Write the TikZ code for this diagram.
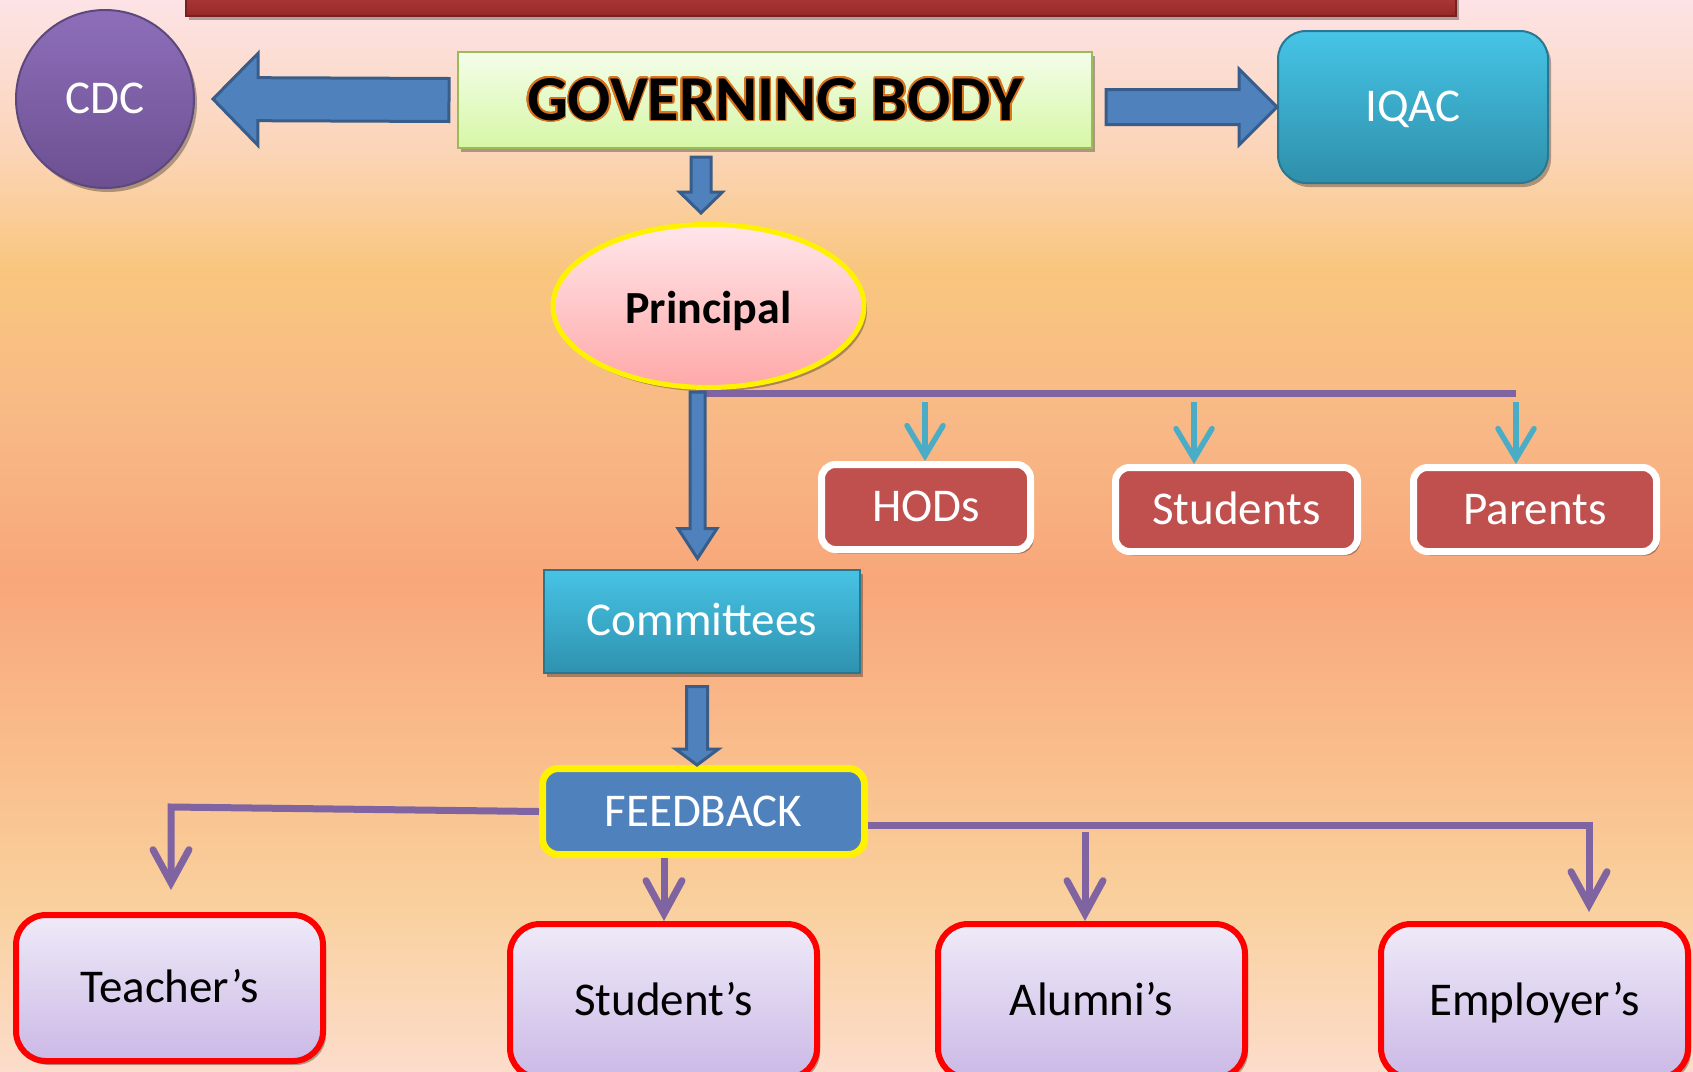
\documentclass[tikz,border=0pt]{standalone}
\usepackage{fontspec}
\setmainfont{Carlito}
\usepackage[copies]{contour}
\contourlength{1.5pt}
\contournumber{20}
\usetikzlibrary{calc,shadows,shapes.geometric,arrows.meta}

\definecolor{bgA}{HTML}{FDE3E6}
\definecolor{bgB}{HTML}{FBD5B8}
\definecolor{bgC}{HTML}{F9C67E}
\definecolor{bgD}{HTML}{F8B986}
\definecolor{bgE}{HTML}{F8A77B}
\definecolor{bgF}{HTML}{F9BE8C}
\definecolor{bgG}{HTML}{F9D09C}
\definecolor{bgH}{HTML}{FCDCCB}
\definecolor{barfill}{HTML}{4F81BD}
\definecolor{barline}{HTML}{385D8A}
\definecolor{purpleC}{HTML}{8064A2}
\definecolor{cyanC}{HTML}{4BACC6}
\definecolor{redfill}{HTML}{C0504D}
\definecolor{glowC}{HTML}{D9731E}
\definecolor{lavtop}{HTML}{EFEAF8}
\definecolor{lavbot}{HTML}{CBB9E6}

\pgfdeclareverticalshading{bgshade}{100bp}{color(0bp)=(bgH); color(25bp)=(bgH); color(33bp)=(bgG); color(39.5bp)=(bgF); color(47.9bp)=(bgE); color(55.4bp)=(bgD); color(62.4bp)=(bgC); color(68bp)=(bgB); color(75bp)=(bgA); color(100bp)=(bgA)}

\newcommand\blockarr[6][]{%
  \coordinate (bah) at ($(#3)!#6!(#2)$);
  \path[blockar,#1] ($(#2)!#4!90:(#3)$) -- ($(bah)!#4!90:(#3)$) -- ($(bah)!#5!90:(#3)$)
    -- (#3) -- ($(bah)!#5!-90:(#3)$) -- ($(bah)!#4!-90:(#3)$) -- ($(#2)!#4!-90:(#3)$) -- cycle;
}

\begin{document}
\begin{tikzpicture}[x=1pt,y=-1pt,
  every node/.style={font=\fontsize{47}{52}\selectfont, text height=29.6pt, text depth=0pt, inner sep=0pt},
  shad/.style={drop shadow={shadow xshift=3pt,shadow yshift=-4pt,opacity=0.3,fill=black}},
  blockar/.style={fill=barfill, draw=barline, line width=3pt, line join=miter},
  purpline/.style={draw=purpleC, line width=7pt, line join=miter},
  purparrow/.style={purpline, -{Straight Barb[length=33pt,width=36pt,line cap=round]}},
  cyanarrow/.style={draw=cyanC, line width=5.5pt, -{Straight Barb[length=30pt,width=36pt,line cap=round]}},
  redbox/.style={rectangle, rounded corners=14pt, fill=redfill, draw=white, line width=7pt, text=white, shad},
  lavbox/.style={rectangle, rounded corners=30pt, top color=lavtop, bottom color=lavbot, draw=red, line width=6pt, minimum width=307pt, text=black, shad},
]
\useasboundingbox (0,0) rectangle (1693,1071);
\shade[shading=bgshade] (0,0) rectangle (1693,1071);

% top bar
\node[rectangle, minimum width=1270pt, minimum height=26pt, top color={rgb,255:red,184;green,62;blue,62}, bottom color={rgb,255:red,150;green,40;blue,40}, draw={rgb,255:red,120;green,32;blue,32}, line width=1.5pt, shad] (topbar) at (821,1) {};

% nodes
\node[circle, minimum size=178pt, top color={rgb,255:red,142;green,110;blue,186}, bottom color={rgb,255:red,108;green,80;blue,145}, draw={rgb,255:red,92;green,72;blue,125}, line width=2pt, text=white, shad] (cdc) at (105,99) {CDC};

\node[rectangle, minimum width=634pt, minimum height=96pt, top color={rgb,255:red,244;green,253;blue,234}, bottom color={rgb,255:red,214;green,247;blue,166}, draw={rgb,255:red,155;green,187;blue,89}, line width=2pt, font=\bfseries\fontsize{64}{70}\selectfont, text height=40.4pt, shad] (gb) at (775,100) {\contour{glowC}{GOVERNING BODY}};

\node[rectangle, rounded corners=28pt, minimum width=270pt, minimum height=152pt, top color={rgb,255:red,70;green,196;blue,230}, bottom color={rgb,255:red,46;green,143;blue,170}, draw={rgb,255:red,40;green,120;blue,145}, line width=2pt, text=white, shad] (iqac) at (1413,107) {IQAC};

\node[ellipse, minimum width=311pt, minimum height=163pt, top color={rgb,255:red,255;green,230;blue,234}, bottom color={rgb,255:red,255;green,168;blue,168}, draw=yellow, line width=5pt, font=\bfseries\fontsize{46}{50}\selectfont, text height=29pt, shad] (principal) at (708.5,306) {\raisebox{-3pt}{Principal}};

\node[redbox, minimum width=209pt, minimum height=85pt] (hods) at (926,507) {HODs};
\node[redbox, minimum width=242pt, minimum height=84pt] (stu) at (1236.5,509.5) {Students};
\node[redbox, minimum width=243pt, minimum height=84pt] (par) at (1535,509.5) {Parents};

\node[rectangle, minimum width=316pt, minimum height=103pt, top color={rgb,255:red,72;green,195;blue,228}, bottom color={rgb,255:red,46;green,146;blue,176}, draw={rgb,255:red,42;green,118;blue,140}, line width=2pt, text=white, shad] (comm) at (702,621) {Committees};

\node[rectangle, rounded corners=16pt, minimum width=322pt, minimum height=86pt, fill=barfill, draw=yellow, line width=7pt, text=white] (fb) at (703.5,811.5) {FEEDBACK};

\node[lavbox, minimum height=146pt] (teach) at (169.5,988) {Teacher’s};
\node[lavbox, minimum height=154pt] (studs) at (663.5,1001) {Student’s};
\node[lavbox, minimum height=154pt] (alum) at (1091.5,1001) {Alumni’s};
\node[lavbox, minimum height=154pt] (emp) at (1534.5,1001) {Employer’s};

% block arrows
\coordinate (a1s) at ([xshift=-8pt]gb.west);
\coordinate (a1e) at ([xshift=18pt]cdc.east);
\blockarr{a1s}{a1e}{21.5pt}{46pt}{45pt}

\coordinate (a2s) at ([shift={(13pt,-7pt)}]gb.east);
\coordinate (a2e) at (iqac.west |- a2s);
\blockarr{a2s}{a2e}{17.5pt}{38pt}{38pt}

\coordinate (a3s) at ([shift={(-74pt,-8pt)}]gb.south);
\coordinate (a3e) at ($(a3s |- principal.north)+(0,-9)$);
\blockarr{a3s}{a3e}{10pt}{21.5pt}{21pt}

% purple line from principal
\coordinate (pl1) at ($(principal.south)+(-11,3)$);
\coordinate (pl2) at ($(pl1 -| par.north)+(-19,0)$);
\draw[purpline] (pl1) -- (pl2);

\coordinate (a4s) at ($(principal.south)+(-11,2)$);
\coordinate (a4e) at ($(a4s |- comm.north)+(0,-10)$);
\blockarr{a4s}{a4e}{7.5pt}{19.5pt}{30pt}

% cyan arrows
\coordinate (c1) at ($(pl1 -| hods.north)+(-1,9)$);
\coordinate (c2) at ($(pl1 -| stu.north)+(-42.5,9)$);
\coordinate (c3) at ($(pl2)+(0,9)$);
\draw[cyanarrow] (c1) -- (c1 |- hods.north);
\draw[cyanarrow] (c2) -- (c2 |- stu.north);
\draw[cyanarrow] (c3) -- (c3 |- par.north);

\coordinate (a5s) at ($(comm.south)+(-5,13)$);
\coordinate (a5e) at (a5s |- fb.north);
\blockarr{a5s}{a5e}{10.5pt}{21.5pt}{16pt}

% feedback connectors
\coordinate (fl) at (171,807);
\coordinate (fle) at ($(fl |- teach.north)+(0,-22)$);
\draw[purparrow] (fb.west) -- (fl) -- (fle);

\coordinate (fbb) at ($(fb.south)+(-39.5,0)$);
\draw[purparrow] (fbb) -- (fbb |- studs.north);

\coordinate (fr) at ($(fb.east)+(0,13.5)$);
\coordinate (frc) at ($(fr -| emp.north)+(54.5,0)$);
\coordinate (fre) at ($(frc |- emp.north)+(0,-9)$);
\draw[purparrow] (fr) -- (frc) -- (fre);

\coordinate (fm) at ($(fr -| alum.north)+(-6.5,7)$);
\draw[purparrow] (fm) -- (fm |- alum.north);
\end{tikzpicture}
\end{document}
